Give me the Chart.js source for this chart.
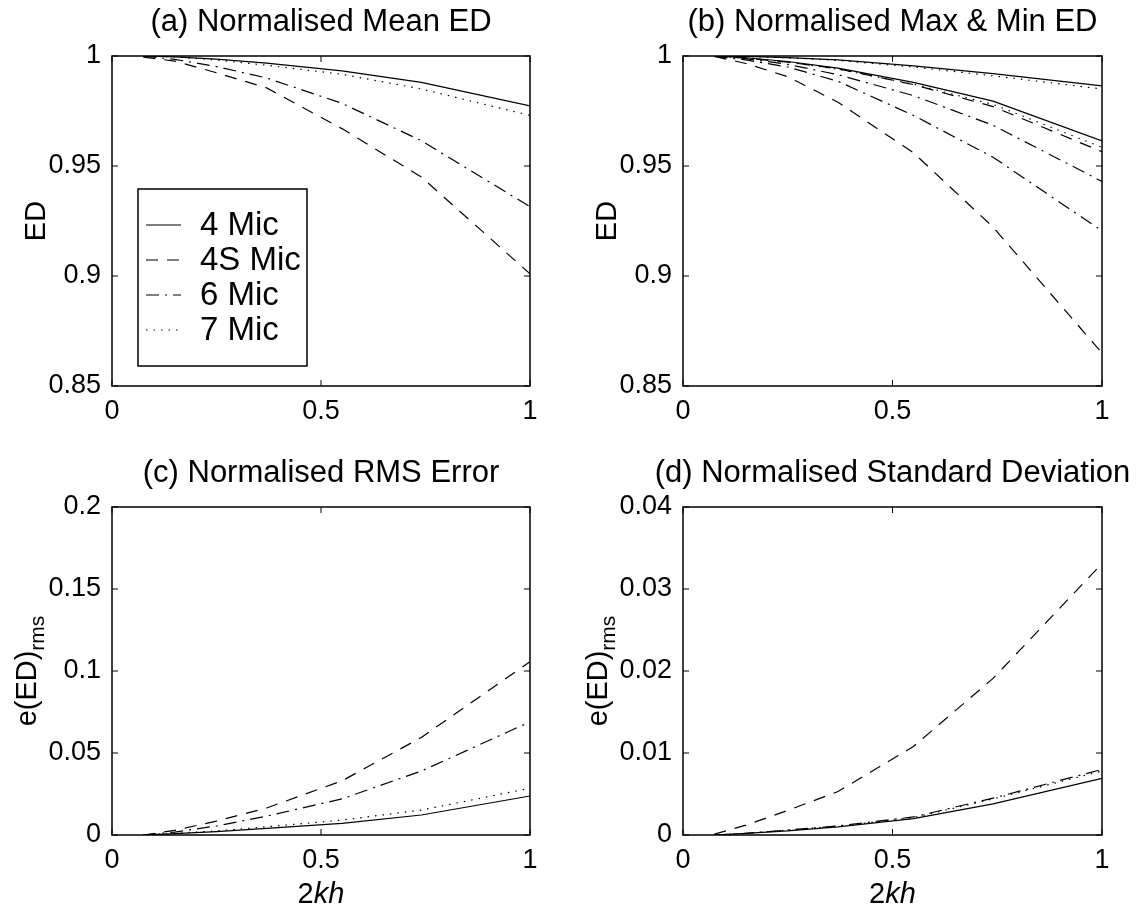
<!DOCTYPE html>
<html>
<head>
<meta charset="utf-8">
<script src="https://cdn.jsdelivr.net/npm/chart.js@4.4.1/dist/chart.umd.min.js"></script>
<style>
  html, body { margin: 0; padding: 0; background: #fff; }
  #fig { position: relative; width: 1142px; height: 910px; overflow: hidden; }
  #fig canvas { position: absolute; }
</style>
</head>
<body>
<div id="fig">
  <canvas id="panelA" width="571" height="455" style="left:0;top:0"></canvas>
  <canvas id="panelB" width="571" height="455" style="left:571px;top:0"></canvas>
  <canvas id="panelC" width="571" height="455" style="left:0;top:455px"></canvas>
  <canvas id="panelD" width="571" height="455" style="left:571px;top:455px"></canvas>
</div>
<script>
// 2kh sample points
const kh2 = [0.075, 0.15, 0.25, 0.37, 0.55, 0.74, 1.0];
const micLabels = ['4 Mic', '4S Mic', '6 Mic', '7 Mic'];

// (a) mean ED
const meanED4  = [1.0000, 0.9996, 0.9986, 0.9968, 0.9932, 0.9880, 0.9773];
const meanED4S = [0.9995, 0.9977, 0.9924, 0.9855, 0.9670, 0.9450, 0.9010];
const meanED6  = [0.9999, 0.9985, 0.9952, 0.9900, 0.9785, 0.9615, 0.9315];
const meanED7  = [1.0000, 0.9996, 0.9982, 0.9958, 0.9917, 0.9850, 0.9730];

// (b) max & min ED
const maxED4  = [1.0000, 0.9998, 0.9993, 0.9982, 0.9955, 0.9920, 0.9864];
const minED4  = [1.0000, 0.9992, 0.9975, 0.9945, 0.9880, 0.9795, 0.9614];
const maxED4S = [1.0000, 0.9990, 0.9972, 0.9942, 0.9870, 0.9770, 0.9565];
const minED4S = [0.9998, 0.9966, 0.9906, 0.9790, 0.9560, 0.9222, 0.8650];
const maxED6  = [1.0000, 0.9988, 0.9962, 0.9915, 0.9820, 0.9685, 0.9430];
const minED6  = [0.9998, 0.9982, 0.9950, 0.9885, 0.9730, 0.9540, 0.9205];
const maxED7  = [1.0000, 0.9998, 0.9992, 0.9980, 0.9950, 0.9910, 0.9850];
const minED7  = [1.0000, 0.9990, 0.9972, 0.9940, 0.9872, 0.9780, 0.9585];

// (c) rms error
const rms4  = [0, 0.0008, 0.0020, 0.0040, 0.0071, 0.0122, 0.0238];
const rms4S = [0, 0.0028, 0.0085, 0.0165, 0.0330, 0.0595, 0.1057];
const rms6  = [0, 0.0018, 0.0055, 0.0115, 0.0220, 0.0390, 0.0690];
const rms7  = [0, 0.0010, 0.0025, 0.0050, 0.0091, 0.0152, 0.0285];

// (d) standard deviation
const std4  = [0, 0.0002, 0.0005, 0.0010, 0.0020, 0.0038, 0.0069];
const std4S = [0.0001, 0.0012, 0.0030, 0.0053, 0.0108, 0.0191, 0.0331];
const std6  = [0, 0.0002, 0.0006, 0.0011, 0.0022, 0.0045, 0.0080];
const std7  = [0, 0.0002, 0.0006, 0.0011, 0.0021, 0.0044, 0.0078];

const FONT = '"Liberation Sans", Arial, Helvetica, sans-serif';
Chart.defaults.font.family = FONT;
Chart.defaults.color = '#000';

// solid, dashed, dash-dot, dotted (matlab style)
const dashes = [[], [12, 9], [13, 6, 2, 6], [1.5, 6]];

function mkSet(label, ys, dash) {
  return {
    label: label,
    data: kh2.map((x, i) => ({ x: x, y: ys[i] })),
    borderColor: '#000',
    borderWidth: 1.2,
    borderDash: dash,
    pointRadius: 0,
    showLine: true,
    fill: false,
    tension: 0
  };
}

const matlabAxes = {
  id: 'matlabAxes',
  afterDraw(chart, args, o) {
    const { ctx, chartArea: a, scales } = chart;
    ctx.save();
    ctx.strokeStyle = '#000';
    ctx.fillStyle = '#000';
    ctx.setLineDash([]);
    // inward ticks on all sides
    ctx.lineWidth = 1;
    const tl = 6;
    ctx.beginPath();
    scales.x.ticks.forEach(t => {
      const px = scales.x.getPixelForValue(t.value);
      ctx.moveTo(px, a.bottom); ctx.lineTo(px, a.bottom - tl);
      ctx.moveTo(px, a.top); ctx.lineTo(px, a.top + tl);
    });
    scales.y.ticks.forEach(t => {
      const py = scales.y.getPixelForValue(t.value);
      ctx.moveTo(a.left, py); ctx.lineTo(a.left + tl, py);
      ctx.moveTo(a.right, py); ctx.lineTo(a.right - tl, py);
    });
    ctx.stroke();
    ctx.lineWidth = 1.5;
    ctx.strokeRect(a.left, a.top, a.right - a.left, a.bottom - a.top);

    // title
    ctx.font = '31px ' + FONT;
    ctx.textAlign = 'center';
    ctx.textBaseline = 'alphabetic';
    ctx.fillText(o.title, (a.left + a.right) / 2, a.top - 25);

    // y label (rotated, optional subscript)
    const cy = (a.top + a.bottom) / 2;
    ctx.save();
    ctx.translate(o.yLabelX, cy);
    ctx.rotate(-Math.PI / 2);
    ctx.textAlign = 'left';
    ctx.font = '29px ' + FONT;
    const w1 = ctx.measureText(o.yLabel).width;
    let w2 = 0;
    if (o.ySub) {
      ctx.font = '21px ' + FONT;
      w2 = ctx.measureText(o.ySub).width;
    }
    const start = -(w1 + w2) / 2;
    ctx.font = '29px ' + FONT;
    ctx.fillText(o.yLabel, start, 0);
    if (o.ySub) {
      ctx.font = '21px ' + FONT;
      ctx.fillText(o.ySub, start + w1, 8);
    }
    ctx.restore();

    // x label "2kh"
    if (o.xLabel) {
      ctx.font = '29px ' + FONT;
      const wa = ctx.measureText('2').width;
      ctx.font = 'italic 29px ' + FONT;
      const wb = ctx.measureText('kh').width;
      const x0 = (a.left + a.right) / 2 - (wa + wb) / 2;
      ctx.textAlign = 'left';
      ctx.font = '29px ' + FONT;
      ctx.fillText('2', x0, a.bottom + 68);
      ctx.font = 'italic 29px ' + FONT;
      ctx.fillText('kh', x0 + wa, a.bottom + 68);
    }

    // legend box
    if (o.legend) {
      const lg = o.legend;
      ctx.fillStyle = '#fff';
      ctx.fillRect(lg.x, lg.y, lg.w, lg.h);
      ctx.lineWidth = 1.5;
      ctx.strokeRect(lg.x, lg.y, lg.w, lg.h);
      ctx.fillStyle = '#000';
      ctx.font = '33px ' + FONT;
      ctx.textBaseline = 'middle';
      ctx.textAlign = 'left';
      chart.data.datasets.forEach((ds, i) => {
        const ry = lg.y + 36 + i * 35;
        ctx.lineWidth = ds.borderWidth;
        ctx.setLineDash(ds.borderDash);
        ctx.beginPath();
        ctx.moveTo(lg.x + 8, ry);
        ctx.lineTo(lg.x + 43, ry);
        ctx.stroke();
        ctx.setLineDash([]);
        ctx.fillText(ds.label, lg.x + 62, ry + 1);
      });
    }
    ctx.restore();
  }
};

function makePanel(id, datasets, yMin, yMax, yStep, box, extra) {
  const W = 571, H = 455;
  return new Chart(document.getElementById(id), {
    type: 'scatter',
    data: { datasets: datasets },
    options: {
      responsive: false,
      animation: false,
      devicePixelRatio: 1,
      layout: { padding: { left: 0, top: box.top, right: W - box.right, bottom: 0 } },
      plugins: {
        legend: { display: false },
        tooltip: { enabled: false },
        matlabAxes: extra
      },
      scales: {
        x: {
          type: 'linear',
          min: 0, max: 1,
          grid: { display: false, drawTicks: false },
          border: { display: false },
          ticks: {
            stepSize: 0.5,
            padding: 9,
            font: { size: 27 },
            callback: v => String(+v.toFixed(3))
          },
          afterFit: s => { s.height = H - box.bottom; }
        },
        y: {
          min: yMin, max: yMax,
          grid: { display: false, drawTicks: false },
          border: { display: false },
          ticks: {
            stepSize: yStep,
            autoSkip: false,
            padding: 11,
            font: { size: 27 },
            callback: v => String(+v.toFixed(3))
          },
          afterFit: s => { s.width = box.left; }
        }
      }
    },
    plugins: [matlabAxes]
  });
}

makePanel('panelA', [
  mkSet(micLabels[0], meanED4, dashes[0]),
  mkSet(micLabels[1], meanED4S, dashes[1]),
  mkSet(micLabels[2], meanED6, dashes[2]),
  mkSet(micLabels[3], meanED7, dashes[3])
], 0.85, 1, 0.05, { left: 112, right: 530, top: 56, bottom: 386 },
{ title: '(a) Normalised Mean ED', yLabel: 'ED', yLabelX: 45,
  legend: { x: 138, y: 189, w: 169, h: 177 } });

makePanel('panelB', [
  mkSet('4 Mic max', maxED4, dashes[0]),
  mkSet('4 Mic min', minED4, dashes[0]),
  mkSet('4S Mic max', maxED4S, dashes[1]),
  mkSet('4S Mic min', minED4S, dashes[1]),
  mkSet('6 Mic max', maxED6, dashes[2]),
  mkSet('6 Mic min', minED6, dashes[2]),
  mkSet('7 Mic max', maxED7, dashes[3]),
  mkSet('7 Mic min', minED7, dashes[3])
], 0.85, 1, 0.05, { left: 112, right: 531, top: 56, bottom: 386 },
{ title: '(b) Normalised Max & Min ED', yLabel: 'ED', yLabelX: 45 });

makePanel('panelC', [
  mkSet(micLabels[0], rms4, dashes[0]),
  mkSet(micLabels[1], rms4S, dashes[1]),
  mkSet(micLabels[2], rms6, dashes[2]),
  mkSet(micLabels[3], rms7, dashes[3])
], 0, 0.2, 0.05, { left: 112, right: 530, top: 52, bottom: 380 },
{ title: '(c) Normalised RMS Error', yLabel: 'e(ED)', ySub: 'rms', yLabelX: 36, xLabel: true });

makePanel('panelD', [
  mkSet(micLabels[0], std4, dashes[0]),
  mkSet(micLabels[1], std4S, dashes[1]),
  mkSet(micLabels[2], std6, dashes[2]),
  mkSet(micLabels[3], std7, dashes[3])
], 0, 0.04, 0.01, { left: 112, right: 531, top: 52, bottom: 380 },
{ title: '(d) Normalised Standard Deviation', yLabel: 'e(ED)', ySub: 'rms', yLabelX: 36, xLabel: true });
</script>
</body>
</html>
